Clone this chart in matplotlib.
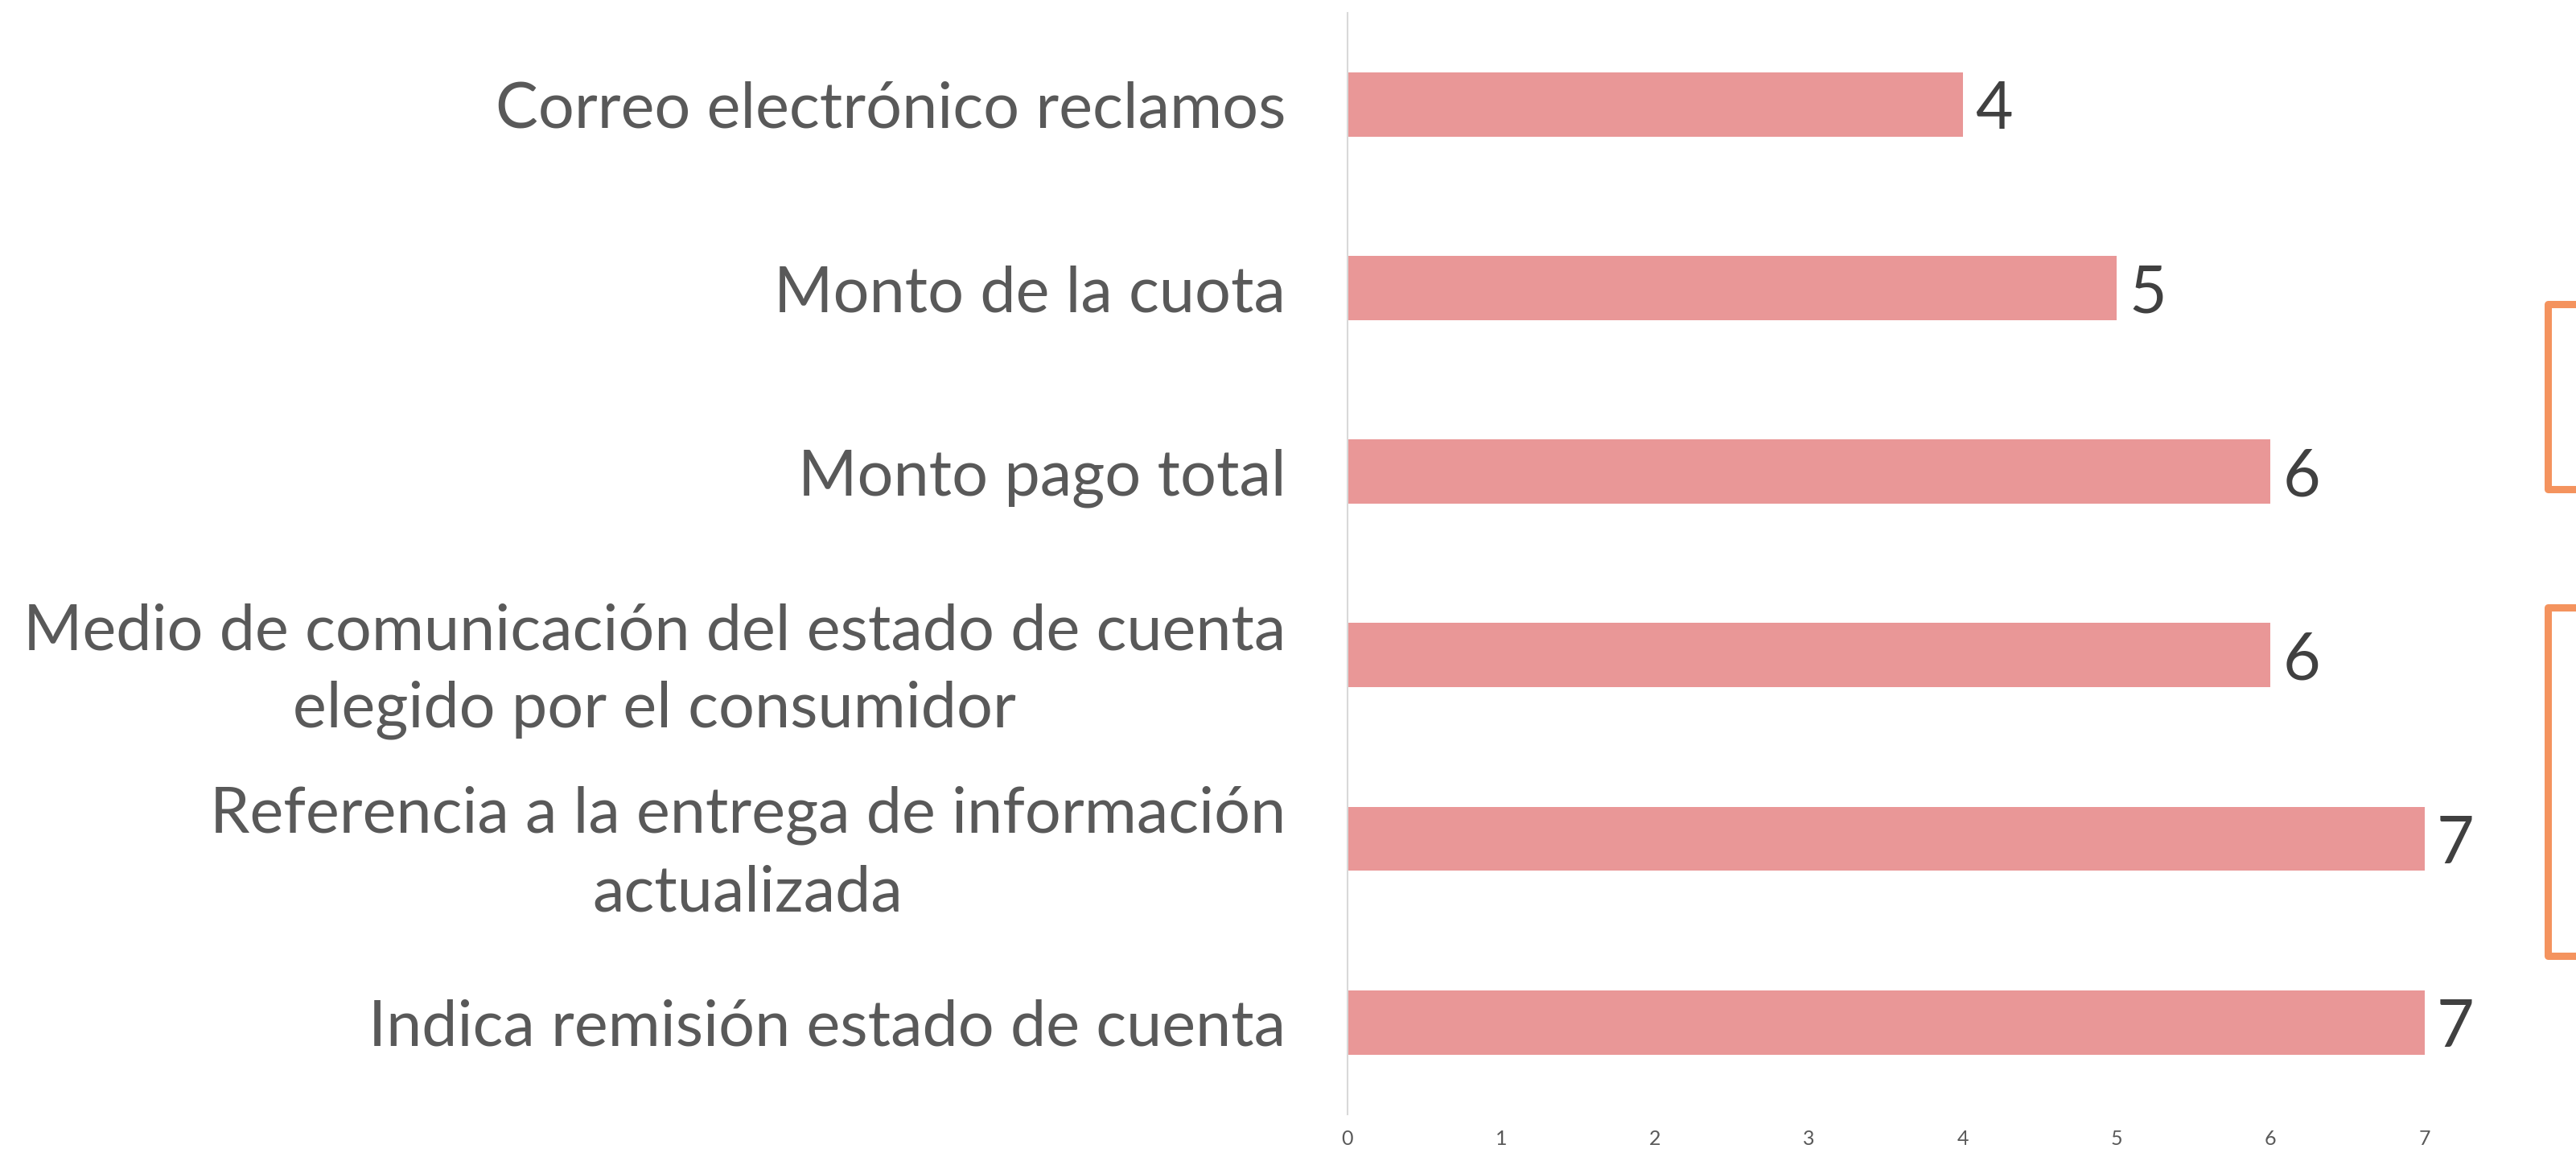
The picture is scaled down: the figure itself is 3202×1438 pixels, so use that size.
import matplotlib
matplotlib.use("Agg")
import matplotlib.pyplot as plt
from matplotlib.lines import Line2D

categorias = [
    "Correo electrónico reclamos",
    "Monto de la cuota",
    "Monto pago total",
    "Medio de comunicación del estado de cuenta\nelegido por el consumidor",
    "Referencia a la entrega de información\nactualizada",
    "Indica remisión estado de cuenta",
]
valores = [4, 5, 6, 6, 7, 7]
ticks_x = [0, 1, 2, 3, 4, 5, 6, 7]

plt.rcParams["font.family"] = ["Lato", "DejaVu Sans"]

fig = plt.figure(figsize=(32.02, 14.38), dpi=100)
ax = fig.add_axes([0.523, 0.037, 0.448, 0.952])

y = list(range(len(categorias)))
bars = ax.barh(y, valores, height=0.35, color="#E99797")
ax.set_ylim(len(categorias) - 0.5, -0.5)
ax.set_xlim(0, 7.5)

ax.set_yticks(y)
ax.set_yticklabels(categorias, fontsize=57, color="#595959",
                   multialignment="center", linespacing=1.42)
ax.set_xticks(ticks_x)
ax.set_xticklabels([str(t) for t in ticks_x], fontsize=18, color="#595959")
ax.tick_params(axis="y", length=0, pad=55)
ax.tick_params(axis="x", length=0, pad=14)

for s in ["top", "right", "bottom"]:
    ax.spines[s].set_visible(False)
ax.spines["left"].set_color("#D9D9D9")
ax.spines["left"].set_linewidth(1.5)

etiquetas = ax.bar_label(bars, labels=[str(v) for v in valores], padding=11,
                         fontsize=58, color="#404040")
for t in etiquetas:
    t.set_va("center_baseline")

# corchetes naranjas a la derecha (cortados por el borde)
W, H = 3202, 1438
naranja = "#F4935E"
for top, bot in [(378, 608), (755, 1188)]:
    xs = [3240 / W, 3167 / W, 3167 / W, 3240 / W]
    ys = [1 - top / H, 1 - top / H, 1 - bot / H, 1 - bot / H]
    fig.add_artist(Line2D(xs, ys, transform=fig.transFigure, color=naranja,
                          linewidth=6.5, solid_joinstyle="round", solid_capstyle="butt"))

fig.savefig("out.png", dpi=100, facecolor="white")
